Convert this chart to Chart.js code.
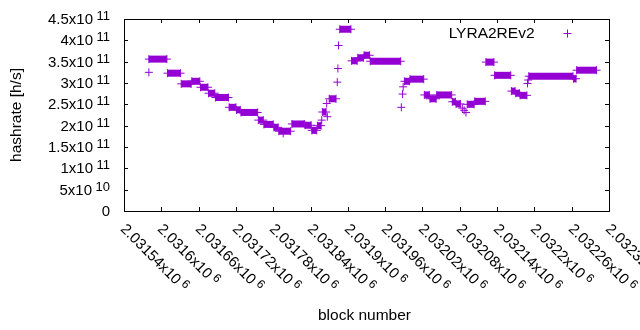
<!DOCTYPE html>
<html>
<head>
<meta charset="utf-8">
<script src="https://cdn.jsdelivr.net/npm/chart.js@4/dist/chart.umd.min.js"></script>
<style>
  body { margin: 0; background: #fff; }
  #wrap { width: 640px; height: 330px; }
</style>
</head>
<body>
<div id="wrap"><canvas id="myChart" width="640" height="330"></canvas></div>
<script>
// block numbers and hashrate (start/end of each flat run, plus single points)
var blocks = [
  2031580, 2031580, 2031609, 2031610, 2031631, 2031632, 2031648, 2031649, 2031662, 2031663,
  2031675, 2031676, 2031686, 2031687, 2031708, 2031709, 2031720, 2031721, 2031727, 2031728,
  2031755, 2031756, 2031764, 2031765, 2031780, 2031781, 2031788, 2031789, 2031808, 2031796,
  2031810, 2031830, 2031831, 2031841, 2031842, 2031850, 2031851, 2031857, 2031858, 2031859,
  2031865, 2031866, 2031867, 2031870, 2031881, 2031883, 2031884, 2031885, 2031887, 2031905,
  2031906, 2031915, 2031916, 2031925, 2031926, 2031935, 2031936, 2031985, 2031986, 2031988,
  2031989, 2031991, 2031999, 2032000, 2032022, 2032023, 2032031, 2032032, 2032042, 2032043,
  2032067, 2032068, 2032073, 2032074, 2032081, 2032084, 2032087, 2032090, 2032092, 2032103,
  2032104, 2032121, 2032122, 2032135, 2032136, 2032162, 2032163, 2032169, 2032170, 2032176,
  2032177, 2032188, 2032189, 2032190, 2032191, 2032262, 2032263, 2032267, 2032268, 2032300
];
var hashrate = [
  3.25e11, 3.56e11, 3.56e11, 3.23e11, 3.23e11, 2.98e11, 2.98e11, 3.04e11, 3.04e11, 2.90e11,
  2.90e11, 2.76e11, 2.76e11, 2.66e11, 2.66e11, 2.43e11, 2.43e11, 2.37e11, 2.37e11, 2.31e11,
  2.31e11, 2.13e11, 2.13e11, 2.03e11, 2.03e11, 1.96e11, 1.96e11, 1.87e11, 1.87e11, 1.82e11,
  2.04e11, 2.04e11, 2.01e11, 2.01e11, 1.89e11, 1.89e11, 2.00e11, 2.00e11, 2.13e11, 2.32e11,
  2.32e11, 2.52e11, 2.21e11, 2.63e11, 2.63e11, 3.02e11, 3.34e11, 3.88e11, 4.26e11, 4.26e11,
  3.52e11, 3.52e11, 3.59e11, 3.59e11, 3.65e11, 3.65e11, 3.51e11, 3.51e11, 2.43e11, 2.74e11,
  2.91e11, 3.04e11, 3.04e11, 3.09e11, 3.09e11, 2.72e11, 2.72e11, 2.63e11, 2.63e11, 2.72e11,
  2.72e11, 2.56e11, 2.56e11, 2.51e11, 2.51e11, 2.41e11, 2.36e11, 2.31e11, 2.50e11, 2.50e11,
  2.57e11, 2.57e11, 3.49e11, 3.49e11, 3.18e11, 3.18e11, 2.81e11, 2.81e11, 2.76e11, 2.76e11,
  2.71e11, 2.71e11, 2.99e11, 3.07e11, 3.16e11, 3.16e11, 3.10e11, 3.10e11, 3.30e11, 3.30e11
];
var seriesName = "LYRA2REv2";
var xMin = 2031540, xMax = 2032320, xStep = 60;
var yMin = 0, yMax = 4.5e11, yStep = 5e10;

var purple = "#9400d3";
var FONT = '"Liberation Sans", Arial, sans-serif';

// split a number into mantissa / exponent the way gnuplot prints it
function sciParts(v, digits) {
  if (v === 0) return ["0", ""];
  var e = Math.floor(Math.log10(Math.abs(v)) + 1e-9);
  var m = parseFloat((v / Math.pow(10, e)).toFixed(digits));
  return [m + "x10", String(e)];
}

// y is the vertical centre of the main text
function drawSci(ctx, parts, x, y, align, expSize) {
  var gap = 3.5;
  ctx.font = "15px " + FONT;
  var w1 = ctx.measureText(parts[0]).width;
  ctx.font = expSize + "px " + FONT;
  var w2 = parts[1] ? ctx.measureText(parts[1]).width + gap : 0;
  var start = align === "right" ? x - w1 - w2 : x;
  var base = y + 5.3;
  ctx.textAlign = "left";
  ctx.textBaseline = "alphabetic";
  ctx.font = "15px " + FONT;
  ctx.fillText(parts[0], start, base);
  if (parts[1]) {
    ctx.font = expSize + "px " + FONT;
    ctx.fillText(parts[1], start + w1 + gap, base - 4.5);
  }
}

const gnuplotFrame = {
  id: "gnuplotFrame",
  afterDraw(chart) {
    const ctx = chart.ctx;
    const a = chart.chartArea;
    const xs = chart.scales.x, ys = chart.scales.y;
    ctx.save();
    ctx.strokeStyle = "#000";
    ctx.lineWidth = 1;
    ctx.strokeRect(a.left + 0.5, a.top + 0.5, a.right - a.left, a.bottom - a.top);
    ctx.fillStyle = "#000";
    // y ticks (both sides, inward) and labels
    ys.ticks.forEach(function (t) {
      var py = Math.round(ys.getPixelForValue(t.value)) + 0.5;
      ctx.beginPath();
      ctx.moveTo(a.left, py); ctx.lineTo(a.left + 4, py);
      ctx.moveTo(a.right, py); ctx.lineTo(a.right - 4, py);
      ctx.stroke();
      drawSci(ctx, sciParts(t.value, 2), 110, py - 0.5, "right", 13);
    });
    // x ticks and rotated labels
    xs.ticks.forEach(function (t) {
      var px = Math.round(xs.getPixelForValue(t.value)) + 0.5;
      ctx.beginPath();
      ctx.moveTo(px, a.bottom); ctx.lineTo(px, a.bottom - 4);
      ctx.moveTo(px, a.top); ctx.lineTo(px, a.top + 4);
      ctx.stroke();
      ctx.save();
      ctx.translate(px - 1, a.bottom + 15);
      ctx.rotate(Math.PI / 4);
      drawSci(ctx, sciParts(t.value, 6), 0, 0, "left", 12);
      ctx.restore();
    });
    // axis titles
    ctx.font = "15.5px " + FONT;
    ctx.textAlign = "center";
    ctx.textBaseline = "middle";
    ctx.fillText("block number", (a.left + a.right) / 2 - 2, 316);
    ctx.save();
    ctx.translate(17, (a.top + a.bottom) / 2);
    ctx.rotate(-Math.PI / 2);
    ctx.fillText("hashrate [h/s]", 0, 0);
    ctx.restore();
    // key
    ctx.font = "15.5px " + FONT;
    ctx.textAlign = "right";
    ctx.textBaseline = "alphabetic";
    ctx.fillText(seriesName, 534.5, 38);
    ctx.strokeStyle = purple;
    ctx.beginPath();
    ctx.moveTo(563.5, 33.5); ctx.lineTo(571.5, 33.5);
    ctx.moveTo(567.5, 29.5); ctx.lineTo(567.5, 37.5);
    ctx.stroke();
    ctx.restore();
  }
};

const ctx = document.getElementById("myChart");
const myChart = new Chart(ctx, {
  type: "scatter",
  data: {
    datasets: [{
      label: seriesName,
      data: blocks.map(function (b, i) { return { x: b, y: hashrate[i] }; }),
      showLine: true,
      borderWidth: 7,
      borderCapStyle: "butt",
      // only flat runs are drawn as a band; jumps between runs stay invisible
      segment: {
        borderColor: function (c) {
          return c.p0.parsed.y === c.p1.parsed.y ? purple : "rgba(0,0,0,0)";
        }
      },
      borderColor: purple,
      pointStyle: "cross",
      pointRadius: 4,
      pointBorderWidth: 1,
      pointBorderColor: purple,
      pointBackgroundColor: purple
    }]
  },
  options: {
    responsive: false,
    animation: false,
    devicePixelRatio: 1,
    layout: { padding: { left: 0, right: 31, top: 19, bottom: 0 } },
    plugins: { legend: { display: false }, tooltip: { enabled: false } },
    scales: {
      x: {
        type: "linear",
        min: xMin, max: xMax,
        ticks: { stepSize: xStep, display: false },
        grid: { display: false },
        border: { display: false },
        afterFit: function (s) { s.height = 119; }
      },
      y: {
        min: yMin, max: yMax,
        ticks: { stepSize: yStep, display: false },
        grid: { display: false },
        border: { display: false },
        afterFit: function (s) { s.width = 124; }
      }
    }
  },
  plugins: [gnuplotFrame]
});
</script>
</body>
</html>
